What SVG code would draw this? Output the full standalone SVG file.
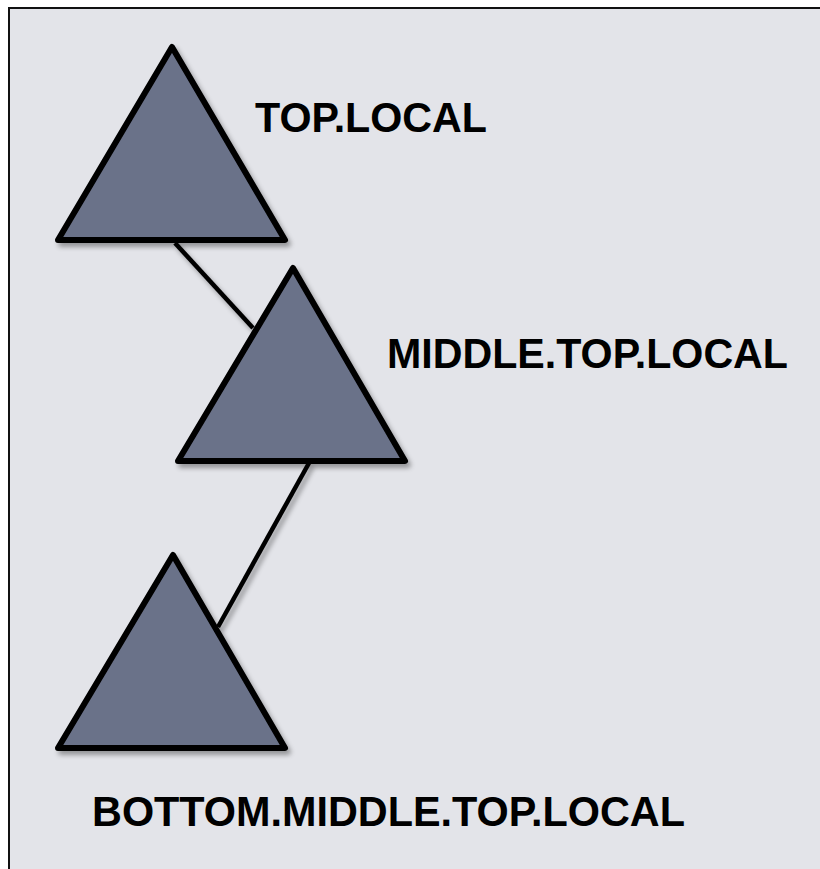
<svg xmlns="http://www.w3.org/2000/svg" width="820" height="869" viewBox="0 0 820 869">
  <defs>
    <filter id="shadow" x="-20%" y="-20%" width="150%" height="150%">
      <feGaussianBlur in="SourceAlpha" stdDeviation="2.5"/>
      <feOffset dx="3" dy="4" result="b"/>
      <feComponentTransfer><feFuncA type="linear" slope="0.35"/></feComponentTransfer>
      <feMerge><feMergeNode/><feMergeNode in="SourceGraphic"/></feMerge>
    </filter>
  </defs>
  <style>
    .domain { fill: #6b7289; stroke: #000; stroke-width: 6; stroke-linejoin: round; }
    .link { stroke: #000; stroke-width: 4.5; fill: none; }
    .label { font-family: "Liberation Sans", Arial, sans-serif; font-weight: bold; font-size: 42px; fill: #000; }
  </style>
  <!-- frame -->
  <rect x="0" y="0" width="820" height="869" fill="#ffffff"/>
  <rect x="9" y="8" width="815" height="870" fill="#e3e4e9" stroke="#111" stroke-width="2"/>

  <g id="connectors" filter="url(#shadow)">
    <line class="link" x1="175" y1="243" x2="253" y2="328"/>
    <line class="link" x1="309" y1="463" x2="218" y2="627"/>
  </g>

  <g id="top-local">
    <polygon class="domain" filter="url(#shadow)" points="172,47 285,240 58,240"/>
    <text class="label" x="255" y="132" textLength="232" lengthAdjust="spacingAndGlyphs">TOP.LOCAL</text>
  </g>

  <g id="middle-top-local">
    <polygon class="domain" filter="url(#shadow)" points="293,268 405,461 178,461"/>
    <text class="label" x="387" y="368" textLength="401" lengthAdjust="spacingAndGlyphs">MIDDLE.TOP.LOCAL</text>
  </g>

  <g id="bottom-middle-top-local">
    <polygon class="domain" filter="url(#shadow)" points="173,555 285,748 58,748"/>
    <text class="label" x="92" y="826" textLength="593" lengthAdjust="spacingAndGlyphs">BOTTOM.MIDDLE.TOP.LOCAL</text>
  </g>
</svg>
